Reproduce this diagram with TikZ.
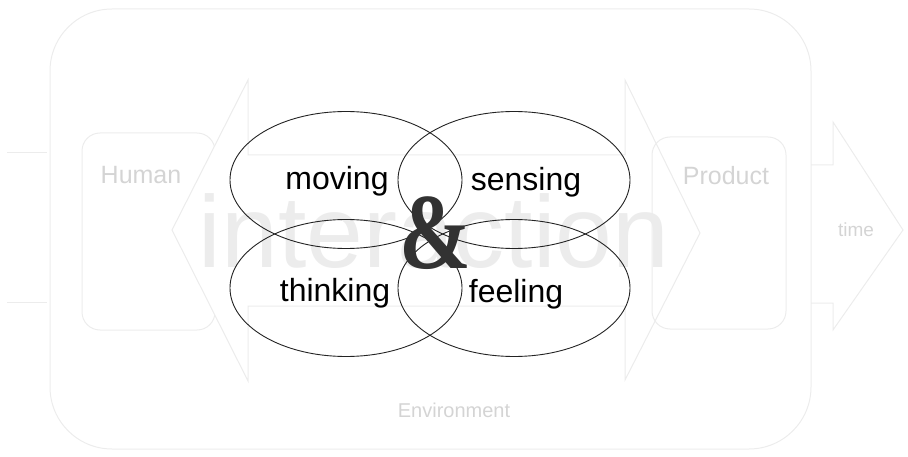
\documentclass[tikz,border=0pt]{standalone}
\usepackage{fontspec}
\setmainfont{Liberation Sans}
\newfontfamily\ampfont{Liberation Serif}
\definecolor{ink}{RGB}{35,35,35}
\definecolor{amp}{RGB}{50,50,50}
\definecolor{faint}{RGB}{236,236,236}
\definecolor{fainttext}{RGB}{212,212,212}
\definecolor{ghosttext}{RGB}{236,236,236}
\usetikzlibrary{positioning,shapes.geometric}
\tikzset{
  petal/.style={draw=ink, line width=0.9pt, ellipse, minimum width=232pt,
               minimum height=137pt, inner sep=0pt},
  verb/.style={font=\fontsize{32}{36}\selectfont, text=black, inner sep=0pt},
  ghost/.style={draw=faint, line width=1pt},
  ghostlabel/.style={font=\fontsize{25}{28}\selectfont, text=fainttext, inner sep=0pt},
}

\begin{document}
\begin{tikzpicture}[x=1pt,y=-1pt]
    \useasboundingbox (0,0) rectangle (908,457);
    % faint figure behind
    \draw[ghost,rounded corners=62pt] (50,9) rectangle (811,449);
    \draw[ghost] (7,153) -- (47,153);
    \draw[ghost] (7,302) -- (47,302);
    \draw[ghost,rounded corners=18pt] (82,133) rectangle (215,330);
    \draw[ghost,fill=white] (248,155) -- (248,80) -- (172,230) -- (248,381) -- (248,306)
      -- (625,306) -- (625,380) -- (700,233) -- (625,80) -- (625,155) -- cycle;
    \draw[ghost,rounded corners=18pt] (652,137) rectangle (786,329);
    \draw[ghost] (811,165) -- (833,165) -- (833,122) -- (903,230) -- (833,330)
      -- (833,303) -- (811,303);
    \node[ghostlabel] (human) at (141,175) {Human};
    \node[ghostlabel] (product) at (726,176) {Product};
    \node[ghostlabel,font=\fontsize{19}{22}\selectfont] (time) at (856,230) {time};
    \node[ghostlabel,font=\fontsize{20}{24}\selectfont] (environment) at (454,410) {Environment};
    \node[font=\fontsize{102}{110}\selectfont,text=ghosttext,anchor=base,inner sep=0pt]
      (interaction) at (434,268) {interaction};
    % the four overlapping ellipses
    \node[petal] (movingpetal)   at (346,180) {};
    \node[petal] (sensingpetal)  at (514,180) {};
    \node[petal] (thinkingpetal) at (346,288) {};
    \node[petal] (feelingpetal)  at (514,288) {};
    \node[verb] (moving)   at (337,181) {moving};
    \node[verb] (sensing)  at (526,182) {sensing};
    \node[verb] (thinking) at (335,293) {thinking};
    \node[verb] (feeling)  at (516,294) {feeling};
    \node[font=\ampfont\bfseries\fontsize{108}{110}\selectfont,text=amp,inner sep=0pt]
      (and) at (435,233) {\scalebox{0.8}[1]{\&}};
\end{tikzpicture}
\end{document}
